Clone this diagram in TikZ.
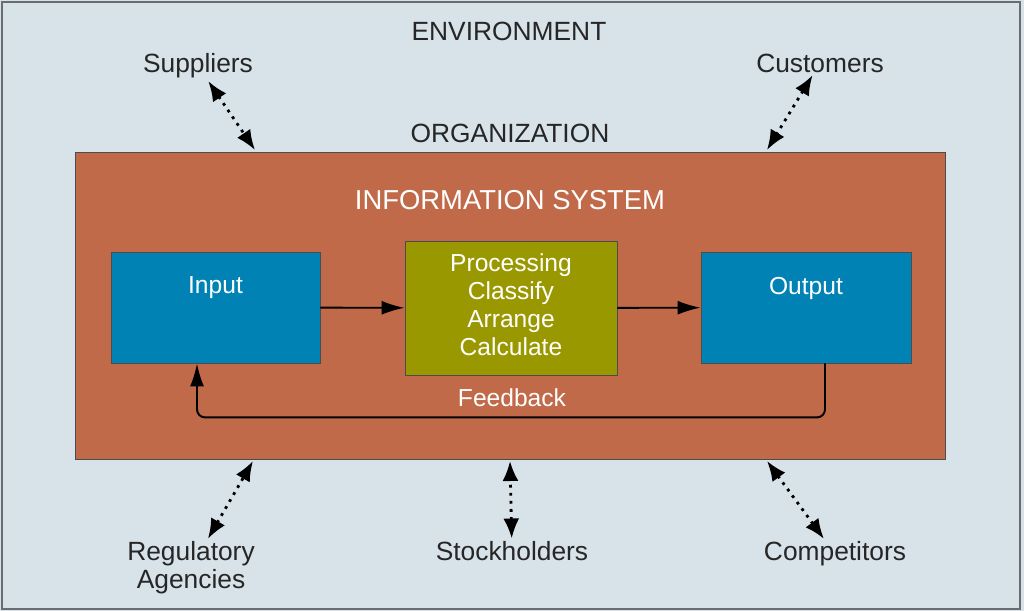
\documentclass[tikz,border=0pt]{standalone}
\usepackage{fontspec}
\setmainfont{Liberation Sans}
\usetikzlibrary{positioning,arrows.meta}
\definecolor{envbg}{RGB}{215,226,233}
\definecolor{orgrust}{RGB}{193,106,74}
\definecolor{boxblue}{RGB}{0,131,180}
\definecolor{procolive}{RGB}{154,152,0}
\definecolor{framegray}{RGB}{105,108,112}
\tikzset{
    outertxt/.style={inner sep=0.5mm, font=\fontsize{15}{16}\selectfont, text=black!85, align=center},
    innertxt/.style={inner sep=0mm, font=\fontsize{14}{16}\selectfont, text=white, align=center},
    block/.style={rectangle, draw=black!70, line width=0.5pt, inner sep=0mm},
    flow/.style={line width=1.1pt, -{Latex[length=0.46cm,width=0.28cm]}},
    envlink/.style={line width=1.6pt, dash pattern=on 1.6pt off 3pt,
        {Latex[length=0.4cm,width=0.32cm]}-{Latex[length=0.4cm,width=0.32cm]}}
}
\begin{document}
\begin{tikzpicture}[x=0.02cm, y=-0.02cm]
  \fill[envbg] (0,0) rectangle (1024,611);
  \draw[framegray, line width=1.2pt] (2,2) rectangle (1020,609);

  \node (env) [outertxt] at (509,31) {ENVIRONMENT};
  \node (orglbl) [outertxt] at (510,133) {ORGANIZATION};
  \node (org) [block, fill=orgrust, minimum width=17.42cm, minimum height=6.14cm] at (510.5,305.5) {};
  \node (infosys) [innertxt, font=\fontsize{15.6}{16}\selectfont] at (510,200) {INFORMATION SYSTEM};

  \node (input) [block, fill=boxblue, minimum width=4.18cm, minimum height=2.22cm] at (215.5,307.5) {};
  \node (proc) [block, fill=procolive, minimum width=4.24cm, minimum height=2.68cm] at (511,308) {};
  \node (output) [block, fill=boxblue, minimum width=4.2cm, minimum height=2.22cm] at (806,307.5) {};
  \node (inputtxt) [innertxt, below=0.5cm of input.north] {Input};
  \node (outputtxt) [innertxt, below=0.5cm of output.north] {Output};
  \node (proctxt) [innertxt] at (511,305) {Processing\\Classify\\Arrange\\Calculate};
  \node (fb) [innertxt] at (512,398) {Feedback};

  \draw[flow] (input) -- (proc);
  \draw[flow] (proc) -- (output);
  \draw[flow, rounded corners=0.16cm] ([xshift=0.38cm]output.south) -- ++(0,54) -| ([xshift=-0.37cm]input.south);

  \node (sup) [outertxt] at (198,66) {Suppliers};
  \node (cust) [outertxt] at (820,63) {Customers};
  \node (reg) [outertxt] at (191,568) {Regulatory\\Agencies};
  \node (stock) [outertxt] at (512,551) {Stockholders};
  \node (comp) [outertxt] at (835,554) {Competitors};

  \coordinate (supend) at (255,150);
  \coordinate (custend) at (767,150);
  \coordinate (regend) at (253,461);
  \coordinate (stockend) at (510,461);
  \coordinate (compend) at (767,461);

  \draw[envlink] (sup) -- (supend);
  \draw[envlink] (cust) -- (custend);
  \draw[envlink] (reg) -- (regend);
  \draw[envlink] (stock) -- (stockend);
  \draw[envlink] (comp) -- (compend);
\end{tikzpicture}
\end{document}
